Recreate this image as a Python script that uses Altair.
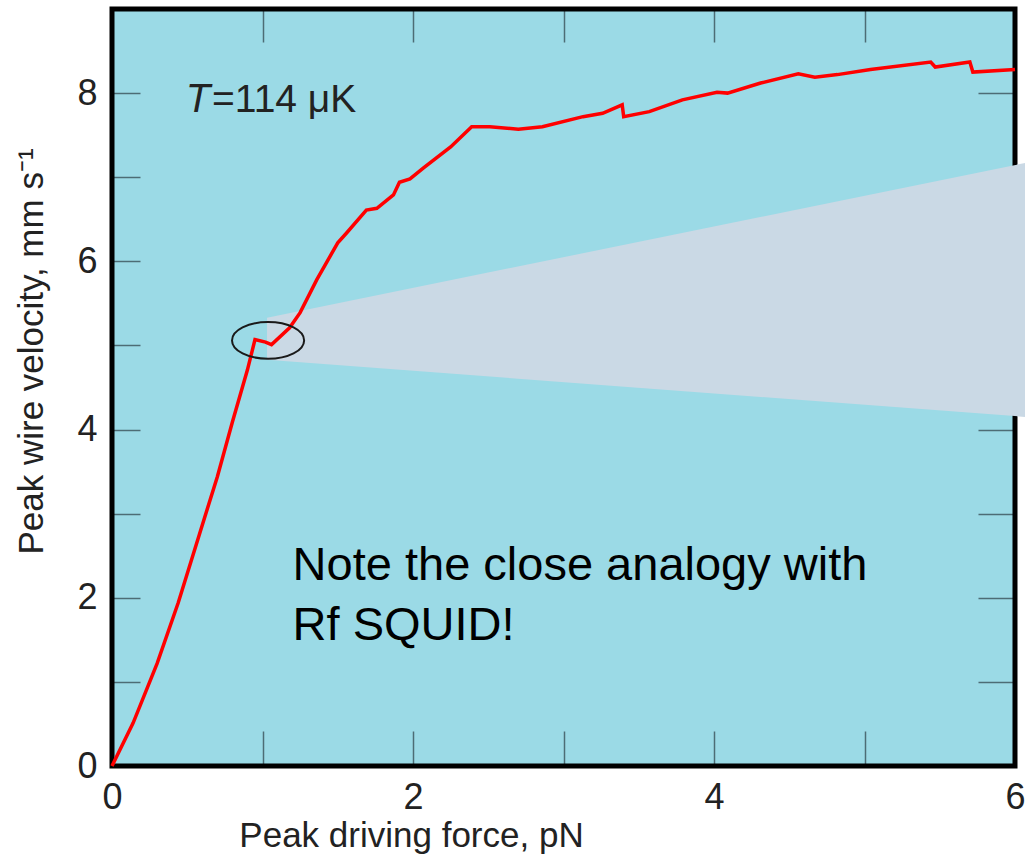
import altair as alt
import pandas as pd

# ---- data ----
force = [0.00, 0.14, 0.30, 0.44, 0.58, 0.70, 0.80, 0.90, 0.95, 1.02, 1.06, 1.18, 1.25,
         1.36, 1.50, 1.56, 1.69, 1.76, 1.87, 1.91, 1.98, 2.07, 2.25, 2.39, 2.51, 2.70,
         2.86, 3.13, 3.26, 3.39, 3.40, 3.57, 3.79, 4.02, 4.09, 4.31, 4.56, 4.67, 4.82,
         5.04, 5.44, 5.47, 5.70, 5.72, 6.00]
velocity = [0.00, 0.51, 1.22, 1.94, 2.75, 3.44, 4.09, 4.71, 5.07, 5.04, 5.01, 5.21, 5.39,
            5.78, 6.22, 6.34, 6.61, 6.63, 6.79, 6.94, 6.98, 7.11, 7.36, 7.60, 7.60, 7.57,
            7.60, 7.72, 7.76, 7.86, 7.72, 7.78, 7.92, 8.01, 8.00, 8.12, 8.23, 8.19, 8.22,
            8.28, 8.37, 8.31, 8.37, 8.25, 8.28]

x_ticks = [0, 1, 2, 3, 4, 5, 6]
y_ticks = [0, 1, 2, 3, 4, 5, 6, 7, 8, 9]
x_domain = [0, 6]
y_domain = [0, 9]

# magnifier wedge (data units)
wedge_x = [1.03, 6.07]
wedge_top = [5.33, 7.17]
wedge_bottom = [4.83, 4.15]

# ellipse highlight centre
ellipse_x = [1.037]
ellipse_y = [5.06]

note_lines = ["Note the close analogy with", "Rf SQUID!"]
note_x = [1.20, 1.20]
note_y = [2.21, 1.50]

temp_label_T = ["T"]
temp_label_rest = ["=114 \u03bcK"]

# ---- styling ----
BG = "#9bdae6"
WEDGE = "#cad9e5"
TICK = "#4d6c75"
FONT = "Liberation Sans"
TXT = "#222222"

xs = alt.Scale(domain=x_domain, nice=False, zero=False)
ys = alt.Scale(domain=y_domain, nice=False, zero=False)

curve_df = pd.DataFrame({"f": force, "v": velocity})
wedge_df = pd.DataFrame({"x": wedge_x, "top": wedge_top, "bot": wedge_bottom})
frame_df = pd.DataFrame({"x": [x_domain[0]], "x2": [x_domain[1]],
                         "y": [y_domain[0]], "y2": [y_domain[1]]})
ell_df = pd.DataFrame({"x": ellipse_x, "y": ellipse_y})
note_df = pd.DataFrame({"x": note_x, "y": note_y, "t": note_lines})
t_df = pd.DataFrame({"x": [0.49], "y": [7.78], "t": temp_label_T})
t2_df = pd.DataFrame({"x": [0.665], "y": [7.78], "t": temp_label_rest})

axis_common = dict(domain=False, grid=False, tickColor=TICK, tickWidth=1.5,
                   labelFont=FONT, labelFontSize=36, labelColor=TXT,
                   titleFont=FONT, titleFontSize=35, titleColor=TXT,
                   titleFontWeight="normal")

bottom_axis = alt.Axis(values=x_ticks, orient="bottom", tickSize=35, offset=-35,
                       labelPadding=14, labelExpr="datum.value % 2 == 0 ? datum.label : ''",
                       title="Peak driving force, pN", titleX=299, titleY=115,
                       titleAlign="center", titleBaseline="alphabetic", labelFlush=False,
                       **axis_common)
left_axis = alt.Axis(values=y_ticks, orient="left", tickSize=28, offset=-28,
                     labelPadding=15, labelExpr="datum.value % 2 == 0 ? datum.label : ''",
                     title="Peak wire velocity, mm s\u207b\u00b9", titleX=-98, titleY=342,
                     titleAngle=-90, titleAlign="center", titleBaseline="alphabetic",
                     labelFlush=False, **axis_common)
top_axis = alt.Axis(values=x_ticks, orient="top", tickSize=33, offset=-33, labels=False,
                    title=None, domain=False, grid=False, tickColor=TICK, tickWidth=1.5)
right_axis = alt.Axis(values=y_ticks, orient="right", tickSize=37, offset=-37, labels=False,
                      title=None, domain=False, grid=False, tickColor=TICK, tickWidth=1.5)

frame = alt.Chart(frame_df).mark_rect(filled=False, stroke="black", strokeWidth=5).encode(
    x=alt.X("x:Q", scale=xs, axis=bottom_axis),
    x2="x2",
    y=alt.Y("y:Q", scale=ys, axis=left_axis),
    y2="y2",
)

wedge = alt.Chart(wedge_df).mark_area(color=WEDGE, clip=False, opacity=1).encode(
    x=alt.X("x:Q", scale=xs, axis=top_axis),
    y=alt.Y("top:Q", scale=ys, axis=right_axis),
    y2="bot",
)

line = alt.Chart(curve_df).mark_line(color="#ff0000", strokeWidth=3.5).encode(
    x=alt.X("f:Q", scale=xs, axis=None),
    y=alt.Y("v:Q", scale=ys, axis=None),
)

ellipse = alt.Chart(ell_df).mark_point(
    shape="M -1 0 A 1 0.51 0 1 1 1 0 A 1 0.51 0 1 1 -1 0 Z",
    size=5200, filled=False, stroke="#1a1a1a", strokeWidth=2, opacity=1,
).encode(
    x=alt.X("x:Q", scale=xs, axis=None),
    y=alt.Y("y:Q", scale=ys, axis=None),
)

note = alt.Chart(note_df).mark_text(font=FONT, fontSize=47, align="left",
                                    baseline="alphabetic", color="black").encode(
    x=alt.X("x:Q", scale=xs, axis=None),
    y=alt.Y("y:Q", scale=ys, axis=None),
    text="t:N",
)

tlab = alt.Chart(t_df).mark_text(font=FONT, fontSize=40, fontStyle="italic", align="left",
                                 baseline="alphabetic", color=TXT).encode(
    x=alt.X("x:Q", scale=xs, axis=None),
    y=alt.Y("y:Q", scale=ys, axis=None),
    text="t:N",
)
tlab2 = alt.Chart(t2_df).mark_text(font=FONT, fontSize=39, align="left",
                                   baseline="alphabetic", color=TXT).encode(
    x=alt.X("x:Q", scale=xs, axis=None),
    y=alt.Y("y:Q", scale=ys, axis=None),
    text="t:N",
)

chart = alt.layer(frame, wedge, line, ellipse, note, tlab, tlab2).resolve_axis(
    x="independent", y="independent"
).properties(
    width=903, height=757,
    autosize=alt.AutoSizeParams(type="none"),
    padding={"left": 112, "top": 9, "right": 10, "bottom": 91},
    background="white",
).configure_view(fill=BG, stroke=None)

chart.save("out.html", embed_options={"renderer": "svg", "actions": False})
